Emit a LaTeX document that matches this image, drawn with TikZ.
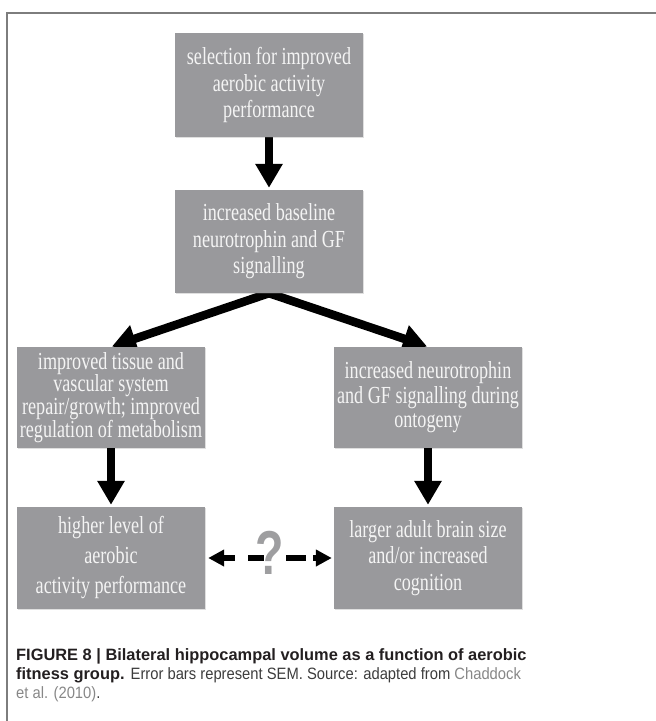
\documentclass[tikz,border=0pt]{standalone}
\usepackage{fontspec}
\setmainfont{Liberation Serif}
\newfontfamily\boxfont[FakeStretch=0.74]{Liberation Serif}
\newfontfamily\capfont{Liberation Sans}
\newfontfamily\capnarrow[FakeStretch=0.9]{Liberation Sans}
\newfontfamily\qfont[FakeStretch=0.75]{Liberation Sans}
\usetikzlibrary{arrows.meta,shadows,backgrounds}
\definecolor{boxgray}{RGB}{153,153,156}
\definecolor{boxtext}{RGB}{244,244,244}
\definecolor{framegray}{RGB}{125,125,125}
\definecolor{capdark}{RGB}{35,31,32}
\definecolor{capmid}{RGB}{60,60,60}
\definecolor{caplink}{RGB}{135,135,135}
\definecolor{qgray}{RGB}{158,158,160}
\begin{document}
\begin{tikzpicture}[x=1pt,y=-1pt,
  box/.style={fill=boxgray, text=boxtext, inner sep=0pt, minimum width=188pt,
    minimum height=102pt, align=center,
    font=\boxfont\fontsize{24.5}{26.5}\selectfont,
    drop shadow={shadow xshift=1.2pt, shadow yshift=-1.2pt, opacity=0.25}},
  downarrow/.style={line width=8pt, -{Triangle[width=26pt,length=24pt]}, shorten >=2pt},
  diagarrow/.style={line width=8.5pt, {Triangle[width=27pt,length=24pt]}-{Triangle[width=27pt,length=24pt]}, line join=miter, shorten <=1pt, shorten >=1pt},
  dasharrow/.style={line width=6pt, {Triangle[width=16pt,length=16pt]}-{Triangle[width=16pt,length=16pt]},
    dash pattern=on 12pt off 13pt on 16pt off 22pt on 20pt off 7pt on 10pt off 100pt,
    shorten <=3pt, shorten >=2pt},
  capline/.style={anchor=base west, inner sep=0pt, text=capdark, font=\capfont\fontsize{16.4}{19}\selectfont}
]
\useasboundingbox (0,0) rectangle (656,721);
\draw[framegray, line width=1.5pt] (7,721) -- (7,13) -- (656,13);

\node[box, minimum height=104pt] (b1) at (269,85) {selection for improved\\aerobic activity\\performance};
\node[box, minimum height=103pt] (b2) at (269,241.5) {increased baseline\\neurotrophin and GF\\signalling};
\node[box, minimum height=101pt, font=\boxfont\fontsize{24.5}{22.5}\selectfont] (b3) at (111,397.5) {improved tissue and\\vascular system\\repair/growth; improved\\regulation of metabolism};
\node[box, minimum height=101pt, font=\boxfont\fontsize{24.5}{24.5}\selectfont] (b4) at (428,397.5) {increased neurotrophin\\and GF signalling during\\ontogeny};
\node[box, font=\boxfont\fontsize{24.5}{30}\selectfont] (b5) at (111,558) {higher level of\\aerobic\\activity performance};
\node[box] (b6) at (428,558) {larger adult brain size\\and/or increased\\cognition};

\begin{scope}[on background layer]
\draw[downarrow] (b1.south) -- (b2.north);
\draw[diagarrow] (b3.north) -- (b2.south) -- (b4.north);
\end{scope}
\draw[downarrow] (b3.south) -- (b5.north);
\draw[downarrow] (b4.south) -- (b6.north);
\draw[dasharrow] (b5.east) -- (b6.west);
\node[font=\qfont\fontsize{62}{62}\bfseries\selectfont, text=qgray, inner sep=0pt] (qm) at (270,553) {?};

\node[capline] (cap1) at (16,660) {\bfseries FIGURE 8 | Bilateral hippocampal volume as a function of aerobic};
\node[capline] (cap2) at (16,679) {{\bfseries fitness group.} \capnarrow\textcolor{capmid}{Error bars represent SEM. Source: adapted from} \textcolor{caplink}{Chaddock}};
\node[capline] (cap3) at (16,698) {\capnarrow\textcolor{caplink}{et al. (2010)}\textcolor{capmid}{.}};
\end{tikzpicture}
\end{document}
